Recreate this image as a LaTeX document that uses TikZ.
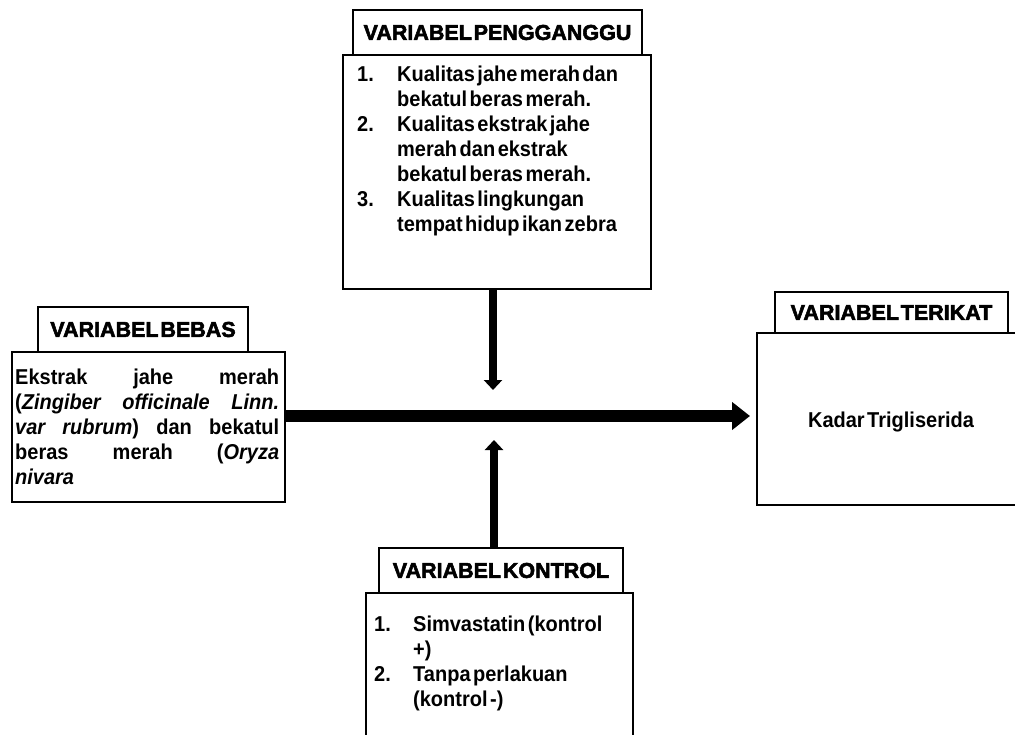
\documentclass[tikz,border=0pt]{standalone}
\usepackage{fontspec}
\usetikzlibrary{arrows.meta}
\newfontfamily\bodyfont{Liberation Sans}[WordSpace=0.45,FakeStretch=0.93]
\newfontfamily\titlefont{Liberation Sans}[WordSpace=0.3,BoldFeatures={FakeBold=2.5}]
\tikzset{
  box/.style={draw,line width=2.6pt,fill=white,inner sep=0pt,rectangle},
  titlebox/.style={box,font=\titlefont\bfseries\fontsize{21.5}{25}\selectfont},
  bodytext/.style={inner sep=0pt,font=\bodyfont\bfseries\fontsize{21.5}{25}\selectfont},
  bigarrow/.style={line width=12pt,-{Triangle[width=27pt,length=18pt]}},
  smallarrow/.style={line width=8pt,-{Triangle[width=18pt,length=10pt]}}
}
\begin{document}
\begin{tikzpicture}[x=1pt,y=-1pt]
\useasboundingbox (0,0) rectangle (1015,735);
\clip (0,0) rectangle (1015,735);
% boxes
\node[box,minimum width=308pt,minimum height=234pt] (topmain) at (497,172) {};
\node[titlebox,minimum width=289pt,minimum height=45pt] (toptitle) at (497.5,32.5) {VARIABEL PENGGANGGU};
\node[box,minimum width=273pt,minimum height=150pt] (leftmain) at (148.5,427) {};
\node[titlebox,minimum width=210pt,minimum height=45pt] (lefttitle) at (143,329.5) {VARIABEL BEBAS};
\node[box,minimum width=273pt,minimum height=172pt] (rightmain) at (893.5,419) {};
\node[titlebox,minimum width=233pt,minimum height=41pt] (righttitle) at (891.5,312.5) {VARIABEL TERIKAT};
\node[box,minimum width=267pt,minimum height=157pt] (botmain) at (499.5,671.5) {};
\node[titlebox,minimum width=244pt,minimum height=45pt] (bottitle) at (501,570.5) {VARIABEL KONTROL};
% texts
\node[bodytext,anchor=north west] (toplist) at (357,64) {%
\begin{tabular}{@{}p{40pt}@{}l@{}}
1. & Kualitas jahe merah dan\\
   & bekatul beras merah.\\
2. & Kualitas ekstrak jahe\\
   & merah dan ekstrak\\
   & bekatul beras merah.\\
3. & Kualitas lingkungan\\
   & tempat hidup ikan zebra
\end{tabular}};
\node[bodytext,anchor=north west,text width=264pt,align=justify] (lefttext) at (15,369) {%
\hyphenpenalty=10000 Ekstrak jahe merah\linebreak (\textit{Zingiber officinale Linn.}\linebreak \textit{var rubrum}) dan bekatul\linebreak beras merah (\textit{Oryza}\linebreak \textit{nivara}};
\node[bodytext] (righttext) at (891,422) {Kadar Trigliserida};
\node[bodytext,anchor=north west] (botlist) at (374,614) {%
\begin{tabular}{@{}p{39pt}@{}l@{}}
1. & Simvastatin (kontrol\\
   & +)\\
2. & Tanpa perlakuan\\
   & (kontrol -)
\end{tabular}};
% arrows
\coordinate (htip) at (750,416);
\coordinate (dtip) at (493,390);
\coordinate (utip) at (494,440);
\draw[bigarrow] (leftmain.east |- htip) -- (htip);
\draw[smallarrow] (topmain.south -| dtip) -- (dtip);
\draw[smallarrow] (bottitle.north -| utip) -- (utip);
\end{tikzpicture}
\end{document}
